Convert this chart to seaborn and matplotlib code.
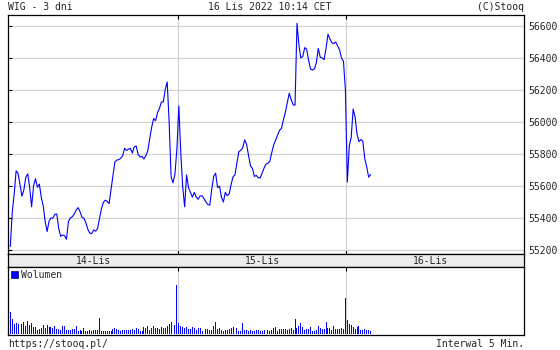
import numpy as np
import pandas as pd
import matplotlib
matplotlib.use("Agg")
import matplotlib.pyplot as plt
from matplotlib.patches import Patch
import seaborn as sns

# ---------------- data ----------------
title = "WIG - 3 dni"
stamp = "16 Lis 2022 10:14 CET"
copyright_txt = "(C)Stooq"
url_txt = "https://stooq.pl/"
interval_txt = "Interwal 5 Min."
day_labels = ["14-Lis", "15-Lis", "16-Lis"]
slots_per_day = 87
y_ticks = [55200, 55400, 55600, 55800, 56000, 56200, 56400, 56600]

price_14 = [55221, 55435, 55550, 55695, 55679, 55610, 55536, 55575, 55655, 55676,
            55590, 55470, 55600, 55645, 55592, 55612, 55528, 55475, 55377, 55315,
            55380, 55400, 55400, 55423, 55425, 55335, 55285, 55294, 55290, 55267,
            55378, 55400, 55408, 55425, 55450, 55465, 55440, 55404, 55399, 55370,
            55330, 55306, 55302, 55325, 55318, 55332, 55395, 55455, 55497, 55511,
            55504, 55490, 55580, 55665, 55750, 55762, 55765, 55773, 55790, 55836,
            55822, 55830, 55835, 55806, 55845, 55850, 55796, 55781, 55785, 55769,
            55790, 55820, 55898, 55968, 56022, 56008, 56058, 56085, 56125, 56125,
            56205, 56250, 56000, 55658, 55620, 55675, 55830]
price_15 = [56100, 55810, 55595, 55470, 55669, 55590, 55560, 55530, 55560, 55530,
            55517, 55538, 55538, 55522, 55500, 55484, 55481, 55580, 55660, 55680,
            55590, 55600, 55530, 55500, 55560, 55540, 55550, 55610, 55658, 55670,
            55745, 55815, 55823, 55840, 55888, 55860, 55790, 55725, 55710, 55660,
            55666, 55652, 55650, 55680, 55712, 55737, 55742, 55755, 55810, 55858,
            55887, 55919, 55948, 55960, 56015, 56060, 56120, 56180, 56140, 56108,
            56105, 56617, 56481, 56400, 56410, 56465, 56455, 56385, 56330, 56325,
            56333, 56370, 56460, 56405, 56400, 56390, 56460, 56548, 56520, 56495,
            56490, 56500, 56475, 56450, 56398, 56380, 56200]
price_16 = [55625, 55850, 55905, 56081, 56030, 55925, 55877, 55890, 55880, 55770,
            55720, 55655, 55672]

vol_14 = [22, 15, 10, 11, 10, 14, 10, 12, 8, 13,
          9, 11, 7, 7, 4, 5, 6, 9, 6, 9,
          7, 7, 6, 8, 5, 5, 4, 8, 8, 4,
          4, 4, 5, 5, 8, 3, 4, 3, 6, 3,
          3, 4, 3, 4, 4, 4, 16, 3, 3, 3,
          3, 3, 3, 5, 6, 5, 4, 3, 4, 4,
          4, 4, 4, 5, 4, 6, 5, 3, 3, 7,
          6, 8, 4, 6, 8, 6, 6, 5, 7, 6,
          6, 8, 10, 12, 9, 9, 49]
vol_15 = [11, 8, 7, 6, 7, 5, 5, 7, 6, 4,
          6, 6, 3, 4, 5, 5, 4, 4, 8, 12,
          5, 6, 4, 3, 4, 4, 5, 6, 7, 5,
          6, 3, 3, 11, 4, 4, 3, 4, 3, 3,
          4, 4, 3, 3, 4, 5, 4, 3, 4, 6,
          7, 3, 5, 5, 5, 5, 4, 5, 6, 4,
          15, 6, 8, 11, 7, 4, 5, 5, 7, 3,
          3, 4, 8, 6, 5, 5, 12, 6, 6, 4,
          8, 5, 5, 5, 6, 5, 36]
vol_16 = [14, 10, 9, 7, 5, 7, 8, 4, 4, 5, 4, 4, 3]

# ---------------- table ----------------
rows = []
for d, (p, v) in enumerate([(price_14, vol_14), (price_15, vol_15), (price_16, vol_16)]):
    for i, (pp, vv) in enumerate(zip(p, v)):
        rows.append({"slot": d * slots_per_day + i, "price": pp, "vol": vv})
df = pd.DataFrame(rows)

# ---------------- style ----------------
sns.set_theme(style="white")
plt.rcParams["font.family"] = ["DejaVu Sans Mono"]
BLUE = "#0000ff"
GRID = "#d3d3d3"
FS = 7

W, H = 560, 350
fig = plt.figure(figsize=(W / 100, H / 100), dpi=100)
fig.patch.set_facecolor("white")


def px_axes(x0, y0, x1, y1):
    return fig.add_axes([x0 / W, 1 - y1 / H, (x1 - x0) / W, (y1 - y0) / H])


ax = px_axes(8, 15, 524, 254)
axb = px_axes(8, 254, 524, 266.7)
axv = px_axes(8, 266.7, 524, 335)

xlim = (-1.19, 265.2)
bounds = [slots_per_day * k - 0.5 for k in (1, 2)]
centers = [slots_per_day * k + (slots_per_day - 1) / 2 for k in range(3)]

# ---- price panel ----
sns.lineplot(data=df, x="slot", y="price", ax=ax, color=BLUE, linewidth=0.8)
ax.set_xlim(*xlim)
ax.set_ylim(55175, 56668.75)
ax.set_yticks(y_ticks)
ax.set_yticklabels([str(t) for t in y_ticks])
ax.set_xticks(bounds)
ax.grid(True, color=GRID, linewidth=0.9)
ax.set_axisbelow(True)
ax.set_xlabel("")
ax.set_ylabel("")
ax.tick_params(axis="x", direction="in", top=True, bottom=True, length=3,
               width=0.8, color="black", labelbottom=False)
ax.tick_params(axis="y", direction="in", left=True, right=False, length=3,
               width=0.8, color="black", labelleft=False, labelright=True,
               labelsize=FS, pad=3)
for s in ax.spines.values():
    s.set_color("black")
    s.set_linewidth(0.9)

# ---- date band ----
axb.set_facecolor("#ececec")
axb.set_xlim(*xlim)
axb.set_ylim(0, 1)
axb.set_xticks([])
axb.set_yticks([])
for c, lab in zip(centers, day_labels):
    axb.text(c, 0.45, lab, ha="center", va="center", fontsize=FS)
for s in axb.spines.values():
    s.set_color("black")
    s.set_linewidth(0.9)

# ---- volume panel ----
sns.barplot(data=df, x="slot", y="vol", ax=axv, native_scale=True, width=0.5,
            color=BLUE, saturation=1, errorbar=None, linewidth=0)
for p in axv.patches:
    p.set_antialiased(False)
axv.set_xlim(*xlim)
axv.set_ylim(-1, 67.3)
axv.set_yticks([])
axv.set_xticks(bounds)
axv.grid(True, axis="x", color=GRID, linewidth=0.9)
axv.set_axisbelow(True)
axv.set_xlabel("")
axv.set_ylabel("")
axv.tick_params(axis="x", direction="in", top=True, bottom=False, length=3,
                width=0.8, color="black", labelbottom=False)
for s in axv.spines.values():
    s.set_color("black")
    s.set_linewidth(0.9)
axv.legend(handles=[Patch(facecolor=BLUE, edgecolor="#000060", linewidth=0.5)],
           labels=["Wolumen"], loc="upper left", frameon=False, fontsize=FS,
           handlelength=0.7, handleheight=0.8, handletextpad=0.3,
           borderaxespad=0.15, borderpad=0.2)

# ---- header / footer ----
fig.text(8 / W, 1 - 7 / H, title, ha="left", va="center", fontsize=FS)
fig.text(270 / W, 1 - 7 / H, stamp, ha="center", va="center", fontsize=FS)
fig.text(524 / W, 1 - 7 / H, copyright_txt, ha="right", va="center", fontsize=FS)
fig.text(8 / W, 1 - 344 / H, url_txt, ha="left", va="center", fontsize=FS)
fig.text(524 / W, 1 - 344 / H, interval_txt, ha="right", va="center", fontsize=FS)

fig.savefig("out.png", dpi=100, facecolor="white")
